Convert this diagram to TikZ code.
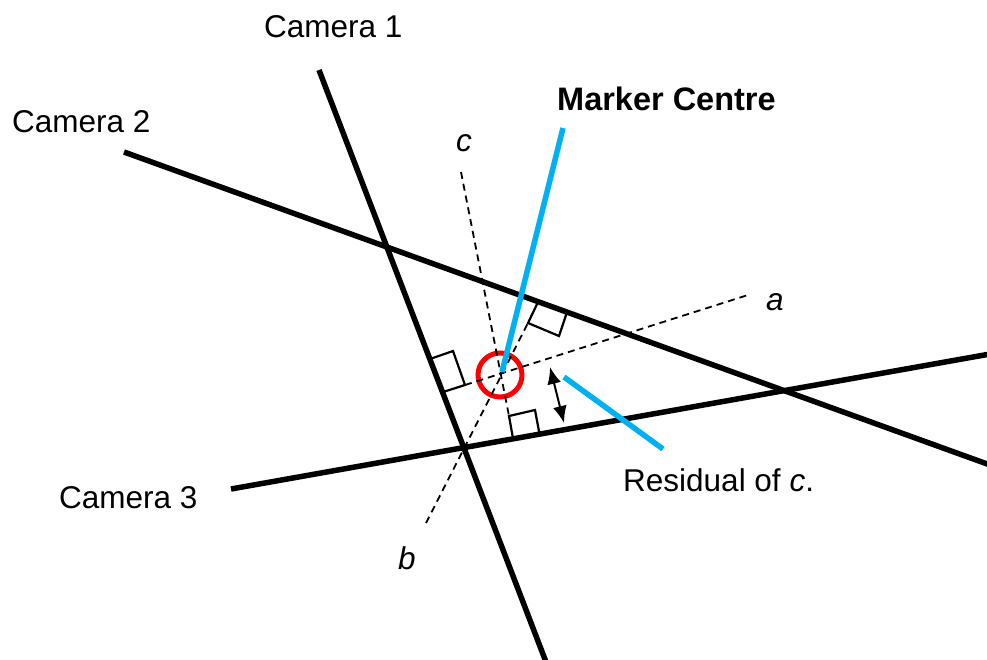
\documentclass[tikz,border=0pt]{standalone}
\usepackage{fontspec}
\setmainfont{Liberation Sans}
\usetikzlibrary{arrows.meta}
\definecolor{skyblue}{HTML}{00B0F0}
\tikzset{
  camline/.style={line width=5.5pt,line cap=butt},
  perpline/.style={line width=1.8pt,dash pattern=on 7pt off 5pt},
  rightmark/.style={line width=2.2pt,line join=miter},
  pointer/.style={skyblue,line width=5.5pt},
  lbl/.style={inner sep=0pt,anchor=base west,font=\fontsize{31.5}{36}\selectfont},
}
\begin{document}
\begin{tikzpicture}[x=1pt,y=-1pt]
\useasboundingbox (0,0) rectangle (987,659);
% camera lines
\coordinate (c1a) at (319,70);
\coordinate (c1b) at (546,662);
\coordinate (c2a) at (124,152);
\coordinate (c2b) at (990,465);
\coordinate (c3a) at (231,489);
\coordinate (c3b) at (990,354);
\draw[camline] (c1a) -- (c1b);
\draw[camline] (c2a) -- (c2b);
\draw[camline] (c3a) -- (c3b);
% marker
\coordinate (M) at (500,375);
\draw[red,line width=5pt] (M) circle[radius=22];
% perpendiculars
\coordinate (aS) at (465,385);
\coordinate (aE) at (748,295);
\coordinate (bS) at (426,523);
\coordinate (bE) at (528,323);
\coordinate (cS) at (461,172);
\coordinate (cE) at (509,416);
\draw[perpline] (aS) -- (aE);
\draw[perpline] (bS) -- (bE);
\draw[perpline] (cS) -- (cE);
% right-angle marks
\draw[rightmark] (538,302) -- (bE) -- (559,336) -- (567,312);
\draw[rightmark] (430,359) -- (453,351) -- (aS) -- (443,392);
\draw[rightmark] (513,438.5) -- (cE) -- (535,410) -- (539.5,434);
% residual arrow
\coordinate (rT) at (550,367);
\coordinate (rB) at (564,423);
\draw[line width=2pt,{Latex[length=17pt,width=14pt]}-{Latex[length=17pt,width=14pt]}] (rT) -- (rB);
% pointers
\coordinate (p1) at (563,128);
\coordinate (p2a) at (564,377);
\coordinate (p2b) at (663,449);
\draw[pointer] (p1) -- (502,372);
\draw[pointer] (p2a) -- (p2b);
% labels
\node[lbl] (t1) at (264,37) {Camera 1};
\node[lbl] (t2) at (12,132) {Camera 2};
\node[lbl] (t3) at (59,508) {Camera 3};
\node[lbl,font=\fontsize{32.5}{36}\selectfont\bfseries] (tm) at (557,110) {Marker Centre};
\node[lbl] (tr) at (623,491) {Residual of \textit{c}.};
\node[lbl] (tc) at (456,151) {\textit{c}};
\node[lbl] (ta) at (766,310) {\textit{a}};
\node[lbl] (tb) at (398,569) {\textit{b}};
\end{tikzpicture}
\end{document}
